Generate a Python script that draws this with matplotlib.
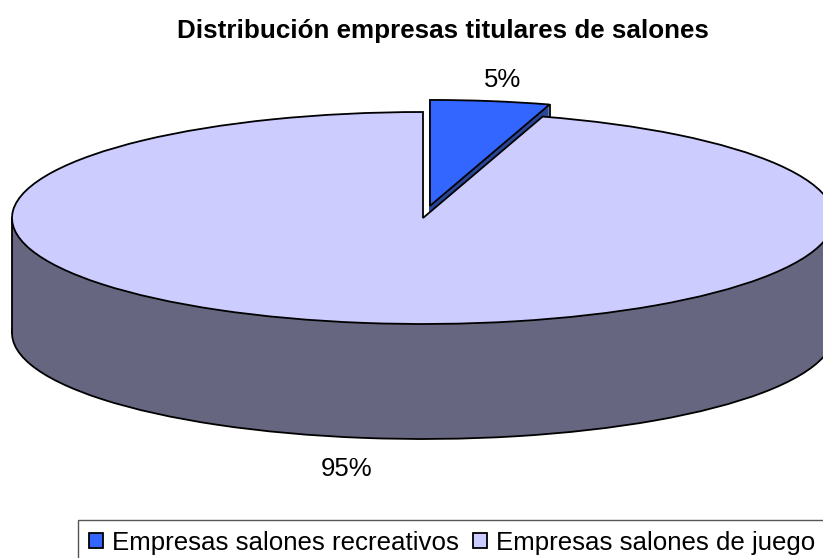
import numpy as np
import matplotlib
matplotlib.use("Agg")
import matplotlib.pyplot as plt
from matplotlib.patches import Patch, Rectangle

plt.rcParams['font.family'] = ['Liberation Sans', 'DejaVu Sans']

title = "Distribución empresas titulares de salones"
categories = ["Empresas salones recreativos", "Empresas salones de juego"]
values = [4.7, 95.3]
explode = [0.115, 0.0]
top_colors = ["#3366FF", "#CCCCFF"]
side_colors = ["#2A4699", "#666680"]

W, H = 823, 558
cx, cy, rx, ry = 423, 218, 411, 106
depth = 115 / ry
lw = 1.3

fig = plt.figure(figsize=(W / 100, H / 100), dpi=100)
ax = fig.add_axes([0, 0, 1, 1])


def layer(shift, index, face, edge="none", z=1):
    wedges, *_ = ax.pie(values, explode=explode, startangle=90, counterclock=False,
                        center=(0, -shift), colors=top_colors,
                        wedgeprops=dict(linewidth=lw, edgecolor=edge))
    for i, w in enumerate(wedges):
        if i == index:
            w.set_facecolor(face)
            w.set_zorder(z)
        else:
            w.remove()


# exploded slice: extrusion, then its top face
for s in np.linspace(depth, 0, 116):
    layer(s, 0, side_colors[0], z=1)
layer(0, 0, top_colors[0], edge="black", z=2)
tip = np.deg2rad(90 - 360 * values[0] / sum(values))
mid = np.deg2rad(90 - 180 * values[0] / sum(values))
tx = explode[0] * np.cos(mid) + np.cos(tip)
ty = explode[0] * np.sin(mid) + np.sin(tip)
ax.plot([tx, tx], [ty, ty - 12 / ry], color="black", lw=lw, zorder=2.5)

# main slice: rim, then its top face
layer(depth, 1, side_colors[1], edge="black", z=3)
ax.add_patch(Rectangle((-1, -depth), 2, depth, facecolor=side_colors[1],
                       edgecolor="none", zorder=3.1))
ax.add_patch(Rectangle((-0.9, -depth - 0.05), 1.8, 0.05, facecolor=side_colors[1],
                       edgecolor="none", zorder=3.1))
ax.plot([-1, -1], [0, -depth], color="black", lw=lw, zorder=3.2)
layer(0, 1, top_colors[1], edge="black", z=4)

ax.set_aspect("auto")
ax.set_xlim(-cx / rx, (W - cx) / rx)
ax.set_ylim((cy - H) / ry, cy / ry)
ax.axis("off")
ax.set_frame_on(False)

fig.text(443 / W, 1 - 31 / H, title, ha="center", va="center",
         fontsize=18.7, fontweight="bold", color="black")


def pct(v):
    return f"{v:.0f}%"


for v, (px, py) in zip(values, [(503, 80), (347, 469)]):
    fig.text(px / W, 1 - py / H, pct(v), ha="center", va="center", fontsize=18.5, color="black")

handles = [Patch(facecolor=c, edgecolor="black", linewidth=1.3) for c in top_colors]
leg = fig.legend(handles, categories, ncol=2, loc="upper left",
                 bbox_to_anchor=(78 / W, 1 - 520 / H), frameon=True, fancybox=False,
                 edgecolor="#555555", framealpha=1, fontsize=18.6,
                 handlelength=0.55, handleheight=0.55, handletextpad=0.35,
                 columnspacing=0.55, borderpad=0.42, borderaxespad=0)
leg.get_frame().set_linewidth(1.0)

fig.savefig("out.png", dpi=100)
